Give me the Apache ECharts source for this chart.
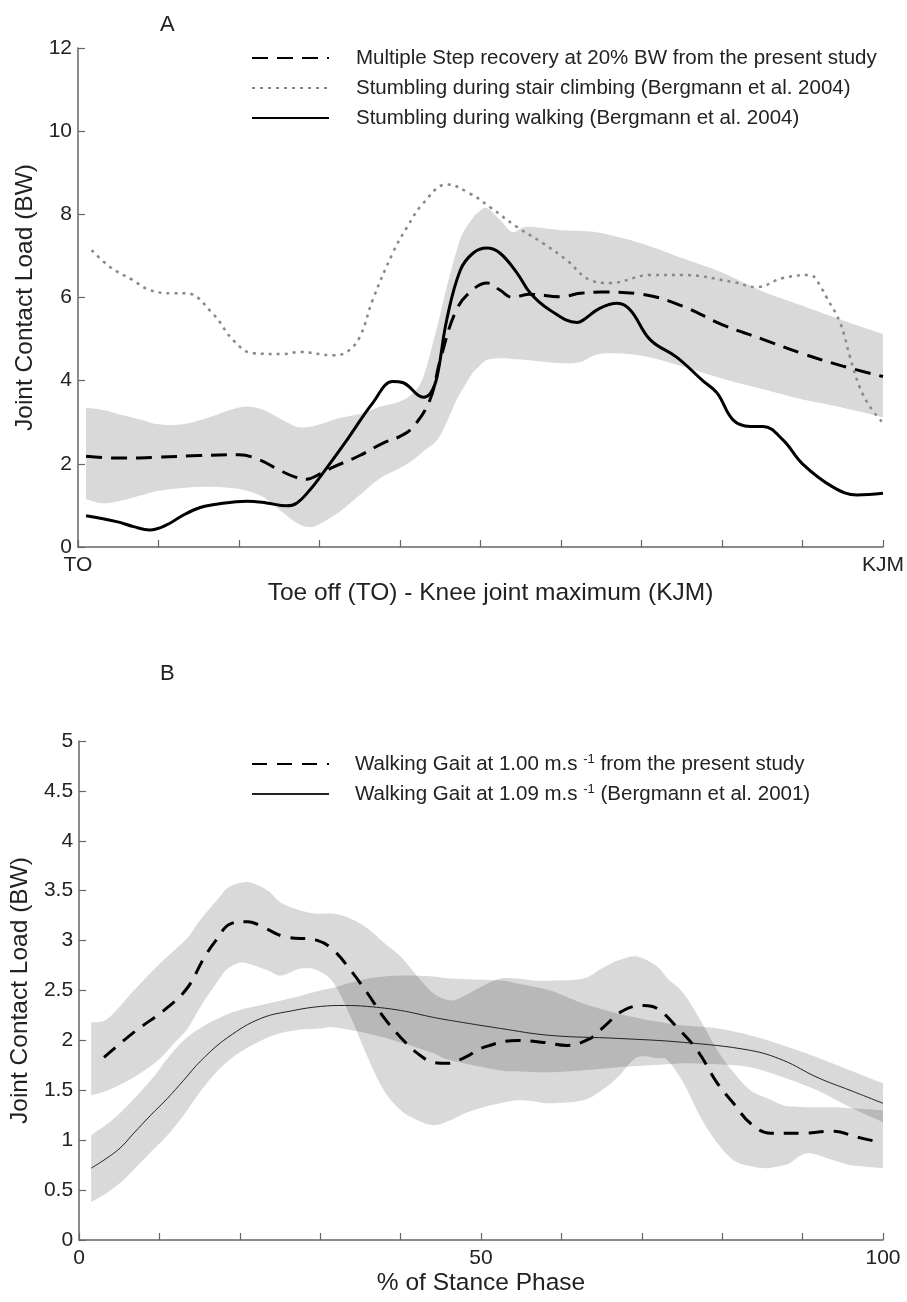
<!DOCTYPE html>
<html>
<head>
<meta charset="utf-8">
<script src="https://cdn.jsdelivr.net/npm/echarts@6/dist/echarts.min.js"></script>
<style>
  html, body { margin: 0; padding: 0; background: #fff; }
  #main { width: 907px; height: 1302px; }
</style>
</head>
<body>
<div id="main"></div>
<script>
// ---- panel A : toe off -> knee joint maximum ----
const namesA = [
  'Multiple Step recovery at 20% BW from the present study',
  'Stumbling during stair climbing (Bergmann et al. 2004)',
  'Stumbling during walking (Bergmann et al. 2004)'
];
const xTickLabelsA = ['TO', '', '', '', '', '', '', '', '', '', 'KJM'];

// mean of present study [x, load]
const recoveryA = [[1,2.18],[3,2.15],[6,2.14],[10,2.16],[15,2.2],[20,2.22],[22.5,2.1],[25,1.85],[27,1.68],[28.4,1.63],
  [30,1.75],[31.7,1.92],[35,2.2],[37.9,2.5],[40,2.66],[41.6,2.88],[43.7,3.53],[45,4.5],[47,5.7],[49,6.18],[50.8,6.35],
  [52.4,6.18],[54,6.0],[56,6.08],[60,6.02],[62.4,6.1],[65,6.13],[70,6.08],[75,5.8],[80,5.35],[85,5.0],[90,4.65],
  [95,4.35],[100,4.1]];
// SD band of present study [x, low, high]
const recoveryBandA = [[1,1.15,3.35],[3,1.05,3.3],[5,1.1,3.2],[8,1.25,3.05],[10,1.35,2.95],[13,1.42,2.95],[16,1.45,3.1],
  [19,1.42,3.3],[21,1.35,3.38],[23,1.2,3.3],[25,0.9,3.1],[27,0.6,2.9],[28.5,0.48,2.88],[30,0.55,2.95],[32.5,0.85,3.1],
  [35,1.25,3.2],[37.5,1.65,3.37],[40,1.9,3.5],[41.6,2.09,3.7],[42.9,2.3,4.09],[44.6,2.57,5.29],[45.8,3.0,6.25],
  [47,3.53,7.1],[47.8,3.8,7.55],[49,4.18,7.9],[49.6,4.3,8.03],[50.8,4.5,8.15],[52.5,4.54,7.85],[54,4.52,7.57],
  [55.7,4.5,7.7],[60,4.42,7.62],[62.4,4.45,7.6],[65,4.65,7.55],[70,4.6,7.3],[75,4.35,6.95],[80,4.05,6.6],[85,3.8,6.15],
  [90,3.55,5.8],[95,3.35,5.45],[100,3.12,5.12]];
const stairA = [[1.7,7.14],[4,6.73],[6.8,6.42],[8.9,6.18],[11.8,6.1],[13.5,6.1],[16.8,5.6],[19.3,4.97],[21.7,4.66],
  [25.5,4.64],[27.6,4.69],[31.7,4.61],[33.4,4.69],[35,5.05],[36.6,5.94],[39.1,7.07],[40.9,7.7],[42.9,8.27],[45.8,8.72],
  [48.7,8.5],[51.2,8.17],[54.5,7.7],[57.8,7.3],[60.7,6.9],[63.6,6.42],[66.1,6.35],[71.1,6.54],[75.2,6.54],[81.4,6.37],
  [84.3,6.25],[87.6,6.47],[90.9,6.54],[92.5,6.18],[93,6.0],[94.7,5.38],[95.9,4.57],[97.1,3.85],[98.4,3.37],[100,2.98]];
const walkingA = [[1,0.75],[4.8,0.61],[6.9,0.49],[8.9,0.41],[11,0.53],[13.1,0.77],[15.2,0.95],[17.2,1.03],[21,1.1],
  [23.4,1.06],[25.9,0.99],[27.2,1.06],[28.8,1.37],[30.1,1.69],[33.4,2.57],[36.6,3.46],[39.1,3.98],[40.4,3.95],[42.9,3.6],
  [43.8,3.7],[44.6,4.09],[45.8,5.46],[47.5,6.66],[49.1,7.07],[50.8,7.19],[52.4,7.07],[54.5,6.6],[56.2,6.1],[58.6,5.7],
  [62,5.4],[62.7,5.45],[64.8,5.74],[67,5.86],[68.6,5.7],[71.1,4.98],[74.4,4.56],[77.6,4.0],[79.4,3.7],[81.4,3.05],
  [83.5,2.9],[85.1,2.9],[87.6,2.57],[90,2.0],[93.8,1.44],[96.8,1.25],[100,1.29]];

// ---- panel B : % of stance phase ----
const namesB = [
  'Walking Gait at 1.00 m.s-1 from the present study',
  'Walking Gait at 1.09 m.s-1 (Bergmann et al. 2001)'
];
const legendTextB = [
  'Walking Gait at 1.00 m.s {sup|-1} from the present study',
  'Walking Gait at 1.09 m.s {sup|-1} (Bergmann et al. 2001)'
];
const xTickLabelsB = ['0', '', '', '', '', '50', '', '', '', '', '100'];

const gaitB = [[3.1,1.83],[6.8,2.08],[11,2.33],[13.5,2.53],[15.5,2.82],[17,3.0],[18.9,3.17],[21,3.19],[23,3.13],
  [25.5,3.04],[29.7,3.0],[31.7,2.9],[33.8,2.7],[35.9,2.47],[37.9,2.23],[40,2.03],[42.1,1.87],[44.1,1.78],[45.8,1.77],
  [48,1.83],[50.3,1.93],[54.5,2.0],[57.8,1.98],[60.7,1.95],[63.6,2.02],[65.2,2.13],[67.7,2.3],[70.2,2.35],[71.9,2.32],
  [74.4,2.13],[76.9,1.9],[79.4,1.57],[81.4,1.37],[83.5,1.17],[86,1.07],[89.7,1.07],[93.8,1.09],[96.8,1.03],[99.6,0.98]];
const gaitBandB = [[1.5,1.45,2.18],[3.6,1.5,2.22],[6.8,1.63,2.5],[9.8,1.8,2.75],[11.8,1.97,2.9],[13.5,2.12,3.03],
  [15.2,2.35,3.22],[17.3,2.6,3.42],[18.5,2.72,3.53],[20.1,2.78,3.58],[21.4,2.76,3.58],[23.5,2.7,3.5],[25.1,2.65,3.38],
  [27.6,2.72,3.3],[29.7,2.7,3.27],[31.7,2.57,3.27],[33.8,2.23,3.22],[35.9,1.83,3.12],[37.9,1.5,2.98],[40,1.3,2.84],
  [42.1,1.2,2.64],[44.1,1.15,2.47],[46.2,1.2,2.4],[48,1.27,2.45],[50.3,1.33,2.55],[52.4,1.37,2.62],[54.5,1.4,2.62],
  [56.5,1.39,2.6],[58.6,1.37,2.6],[62.7,1.4,2.62],[65,1.5,2.72],[67,1.63,2.8],[69.4,1.83,2.84],[71.9,1.82,2.74],
  [73.2,1.8,2.62],[75.2,1.57,2.47],[77.3,1.23,2.2],[79.4,0.97,1.9],[81.4,0.8,1.68],[83.5,0.74,1.5],[85.6,0.72,1.42],
  [87.6,0.75,1.35],[88.4,0.77,1.34],[90.6,0.87,1.33],[93.8,0.8,1.33],[96,0.75,1.32],[100,0.72,1.3]];
const bergmannB = [[1.5,0.72],[4.8,0.9],[6.8,1.07],[8.9,1.25],[11,1.42],[13,1.6],[15.2,1.8],[18.5,2.03],[22.6,2.22],
  [26.7,2.3],[30,2.34],[33,2.35],[35.9,2.34],[40,2.3],[44.1,2.23],[46.2,2.2],[52.4,2.12],[58.6,2.05],[67,2.02],[75.2,1.98],
  [83.5,1.9],[87.6,1.8],[91.8,1.63],[95.9,1.5],[100,1.37]];
const bergmannBandB = [[1.5,0.38,1.05],[4.8,0.55,1.25],[8.9,0.88,1.6],[11,1.05,1.82],[13,1.25,2.0],[15.2,1.5,2.13],
  [17.3,1.7,2.22],[19.8,1.87,2.3],[23.5,2.03,2.37],[26.7,2.1,2.43],[30,2.12,2.5],[31.7,2.13,2.53],[35.9,2.07,2.62],
  [40,1.98,2.65],[44.1,1.87,2.64],[46.2,1.8,2.62],[52.4,1.7,2.6],[54.5,1.69,2.57],[58.6,1.68,2.5],[62.7,1.7,2.37],
  [67,1.73,2.27],[71.1,1.75,2.2],[75.2,1.77,2.15],[79.4,1.76,2.12],[83.5,1.73,2.05],[87.6,1.63,1.95],[91.8,1.5,1.83],
  [95.9,1.33,1.7],[100,1.18,1.57]];

const FONT = '"Liberation Sans", Arial, sans-serif';
const AXIS_GREY = '#666';

// catmull-rom resampling of already projected pixel points, for a smooth band outline
function smoothPts(pts, steps) {
  const out = [];
  const n = pts.length;
  for (let i = 0; i < n - 1; i++) {
    const p0 = pts[Math.max(i - 1, 0)], p1 = pts[i], p2 = pts[i + 1], p3 = pts[Math.min(i + 2, n - 1)];
    for (let k = 0; k < steps; k++) {
      const t = k / steps, t2 = t * t, t3 = t2 * t;
      const f = j => 0.5 * (2 * p1[j] + (-p0[j] + p2[j]) * t + (2 * p0[j] - 5 * p1[j] + 4 * p2[j] - p3[j]) * t2 +
        (-p0[j] + 3 * p1[j] - 3 * p2[j] + p3[j]) * t3);
      out.push([f(0), f(1)]);
    }
  }
  out.push(pts[n - 1]);
  return out;
}

function bandSeries(band, idx, color) {
  return {
    type: 'custom', xAxisIndex: idx, yAxisIndex: idx, silent: true, z: 1,
    data: band, encode: { x: 0, y: [1, 2] },
    renderItem: function (params, api) {
      if (params.dataIndex !== 0) return;
      const upper = smoothPts(band.map(d => api.coord([d[0], d[2]])), 8);
      const lower = smoothPts(band.map(d => api.coord([d[0], d[1]])), 8).reverse();
      return { type: 'polygon', shape: { points: upper.concat(lower) }, style: { fill: color } };
    }
  };
}

function lineSeries(name, data, idx, style) {
  return {
    name: name, type: 'line', xAxisIndex: idx, yAxisIndex: idx, data: data,
    smooth: 0.4, symbol: 'none', z: 3, lineStyle: style, itemStyle: { color: style.color }
  };
}

function xAxis(idx, name, labels, gap) {
  return {
    gridIndex: idx, type: 'value', min: 0, max: 100, interval: 10,
    name: name, nameLocation: 'middle', nameGap: gap,
    nameTextStyle: { fontSize: 24.5, color: '#222', fontFamily: FONT, padding: [0, 0, 0, idx === 0 ? 20 : 0] },
    axisLine: { lineStyle: { color: AXIS_GREY, width: 1.5 } },
    axisTick: { inside: true, length: 7, lineStyle: { color: AXIS_GREY, width: 1.2 } },
    axisLabel: { margin: 8, fontSize: 21, color: '#222', fontFamily: FONT,
      formatter: v => labels[Math.round(v / 10)] },
    splitLine: { show: false }
  };
}

function yAxis(idx, max, interval) {
  return {
    gridIndex: idx, type: 'value', min: 0, max: max, interval: interval,
    name: 'Joint Contact Load (BW)', nameLocation: 'middle', nameGap: 37,
    nameTextStyle: { fontSize: 24.5, color: '#222', fontFamily: FONT },
    axisLine: { show: true, lineStyle: { color: AXIS_GREY, width: 1.5 } },
    axisTick: { show: true, inside: true, length: 7, lineStyle: { color: AXIS_GREY, width: 1.2 } },
    axisLabel: { margin: 6, fontSize: 21, color: '#222', fontFamily: FONT },
    splitLine: { show: false }
  };
}

const legendBase = {
  orient: 'vertical', left: 251, padding: 0,
  itemWidth: 77, itemHeight: 14, itemGap: 8,
  itemStyle: { opacity: 0 }
};

const chart = echarts.init(document.getElementById('main'), null, { renderer: 'canvas' });
chart.setOption({
  backgroundColor: '#fff',
  animation: false,
  textStyle: { fontFamily: FONT },
  title: [
    { text: 'A', left: 155, top: 9, textStyle: { fontSize: 22, fontWeight: 'normal', color: '#222', fontFamily: FONT } },
    { text: 'B', left: 155, top: 658, textStyle: { fontSize: 22, fontWeight: 'normal', color: '#222', fontFamily: FONT } }
  ],
  legend: [
    Object.assign({}, legendBase, {
      data: namesA, top: 47,
      textStyle: { fontSize: 20.5, color: '#222', lineHeight: 22, padding: [0, 0, 0, 22], fontFamily: FONT }
    }),
    Object.assign({}, legendBase, {
      data: namesB, top: 753,
      formatter: n => legendTextB[namesB.indexOf(n)],
      textStyle: { fontSize: 20.5, color: '#222', lineHeight: 22, padding: [0, 0, 0, 21], fontFamily: FONT,
        rich: { sup: { fontSize: 13, lineHeight: 13, verticalAlign: 'top', color: '#222', fontFamily: FONT } } }
    })
  ],
  grid: [
    { left: 78, right: 24, top: 48, height: 499 },
    { left: 78, right: 24, top: 741, height: 499 }
  ],
  xAxis: [
    xAxis(0, 'Toe off (TO) - Knee joint maximum (KJM)', xTickLabelsA, 34),
    xAxis(1, '% of Stance Phase', xTickLabelsB, 31)
  ],
  yAxis: [yAxis(0, 12, 2), yAxis(1, 5, 0.5)],
  series: [
    bandSeries(recoveryBandA, 0, '#d9d9d9'),
    lineSeries(namesA[0], recoveryA, 0, { color: '#000', width: 3, type: [16, 9] }),
    lineSeries(namesA[1], stairA, 0, { color: '#888', width: 2.5, type: [3, 5] }),
    lineSeries(namesA[2], walkingA, 0, { color: '#000', width: 3 }),
    bandSeries(gaitBandB, 1, 'rgba(0,0,0,0.15)'),
    bandSeries(bergmannBandB, 1, 'rgba(0,0,0,0.15)'),
    lineSeries(namesB[0], gaitB, 1, { color: '#000', width: 3, type: [15, 10] }),
    lineSeries(namesB[1], bergmannB, 1, { color: '#222', width: 1 })
  ]
});
</script>
</body>
</html>
